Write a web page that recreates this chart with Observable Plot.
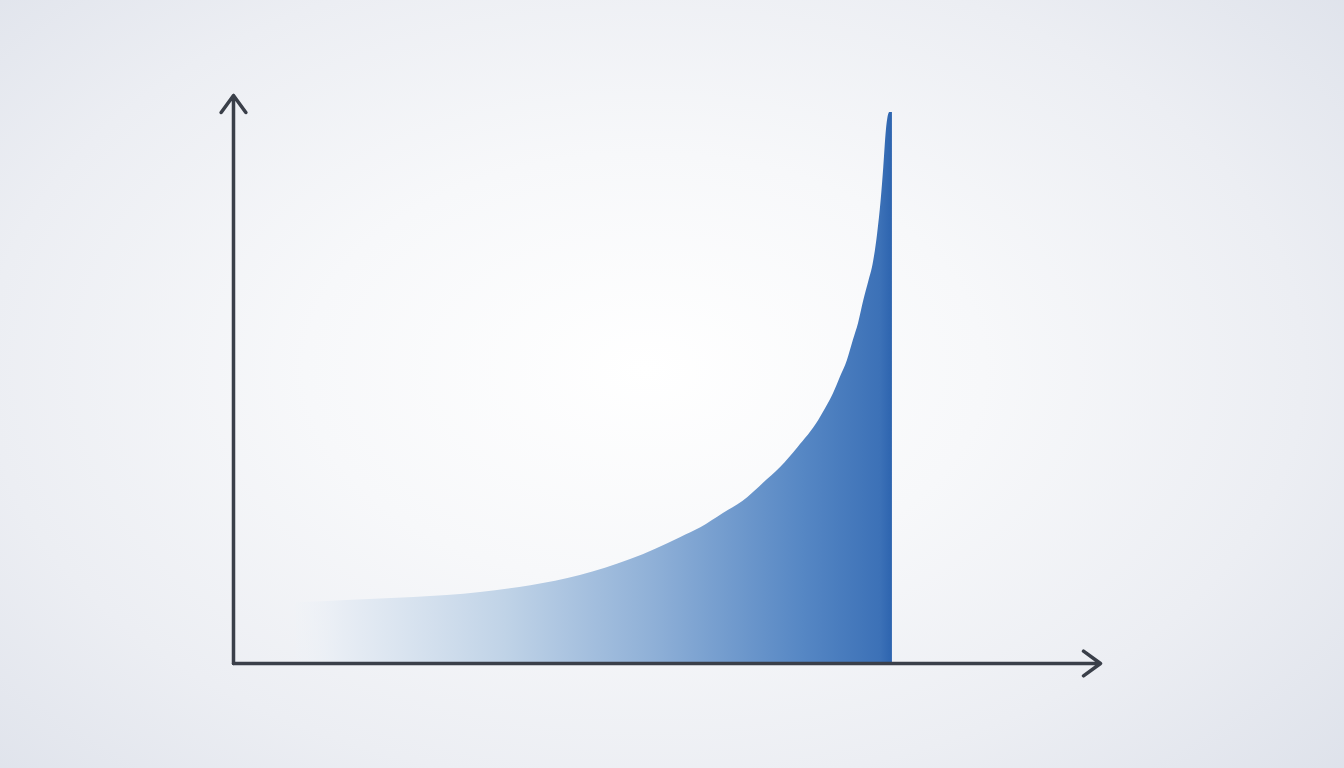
<!DOCTYPE html>
<html>
<head>
<meta charset="utf-8">
<script src="https://cdn.jsdelivr.net/npm/d3@7"></script>
<script src="https://cdn.jsdelivr.net/npm/@observablehq/plot@0.6"></script>
<style>
  html, body { margin: 0; padding: 0; width: 1344px; height: 768px; overflow: hidden; }
  body { background: radial-gradient(ellipse 72% 80% at 48% 48%, #ffffff 0%, #f7f8fa 35%, #eceef3 68%, #dde1ea 100%); }
  svg { display: block; background: transparent !important; }
</style>
</head>
<body>
<div id="chart"></div>
<script>
// Curve samples (x, y in data units 0–100)
const xs = [7.2, 13.1, 20.8, 28.5, 34.3, 40.0, 45.8, 51.6, 53.9, 56.5, 59.3, 61.1, 63.1, 65.1, 67.5, 68.3, 69.2, 70.0, 70.8, 71.5, 72.1, 72.7, 73.3, 73.7, 74.3, 74.7, 75.0, 75.3, 75.7, 76.0];
const ys = [10.7, 11.1, 11.6, 12.5, 13.7, 15.5, 18.3, 22.2, 23.9, 26.4, 29.2, 31.7, 34.5, 38.0, 42.8, 44.9, 47.5, 50.4, 53.3, 56.9, 59.9, 63.9, 67.4, 69.7, 75.7, 81.5, 87.3, 93.8, 97.0, 97.0];
// Axis extents
const xAxisEnd = [100];
const yAxisEnd = [100];

const data = xs.map((x, i) => ({x, y: ys[i]}));

const defs = () => {
  const g = d3.create("svg:defs");
  const lg = g.append("linearGradient").attr("id", "areaGrad").attr("x1", "0").attr("x2", "1").attr("y1", "0").attr("y2", "0");
  [[0, "#eef2f7", 0.25], [0.08, "#e6ecf4", 0.9], [0.35, "#c0d3e7", 1], [0.6, "#8fb0d7", 1], [0.85, "#5687c4", 1], [0.98, "#3c71b7", 1], [1, "#2d64af", 1]]
    .forEach(([o, c, a]) => lg.append("stop").attr("offset", o).attr("stop-color", c).attr("stop-opacity", a));
  return g.node();
};

const axisStyle = {stroke: "#3a3f49", strokeWidth: 3.5, headLength: 9, headAngle: 72, strokeLinecap: "round", strokeLinejoin: "round"};

const chart = Plot.plot({
  width: 1344,
  height: 768,
  marginLeft: 233,
  marginRight: 244,
  marginTop: 95,
  marginBottom: 105,
  x: {domain: [0, 100], axis: null},
  y: {domain: [0, 100], axis: null},
  style: {background: "transparent"},
  marks: [
    defs,
    Plot.areaY(data, {x: "x", y: "y", fill: "url(#areaGrad)", curve: "monotone-x"}),
    Plot.arrow(xAxisEnd, {x1: 0, y1: 0, x2: d => d, y2: 0, ...axisStyle}),
    Plot.arrow(yAxisEnd, {x1: 0, y1: 0, x2: 0, y2: d => d, ...axisStyle})
  ]
});
document.getElementById("chart").appendChild(chart);
</script>
</body>
</html>
